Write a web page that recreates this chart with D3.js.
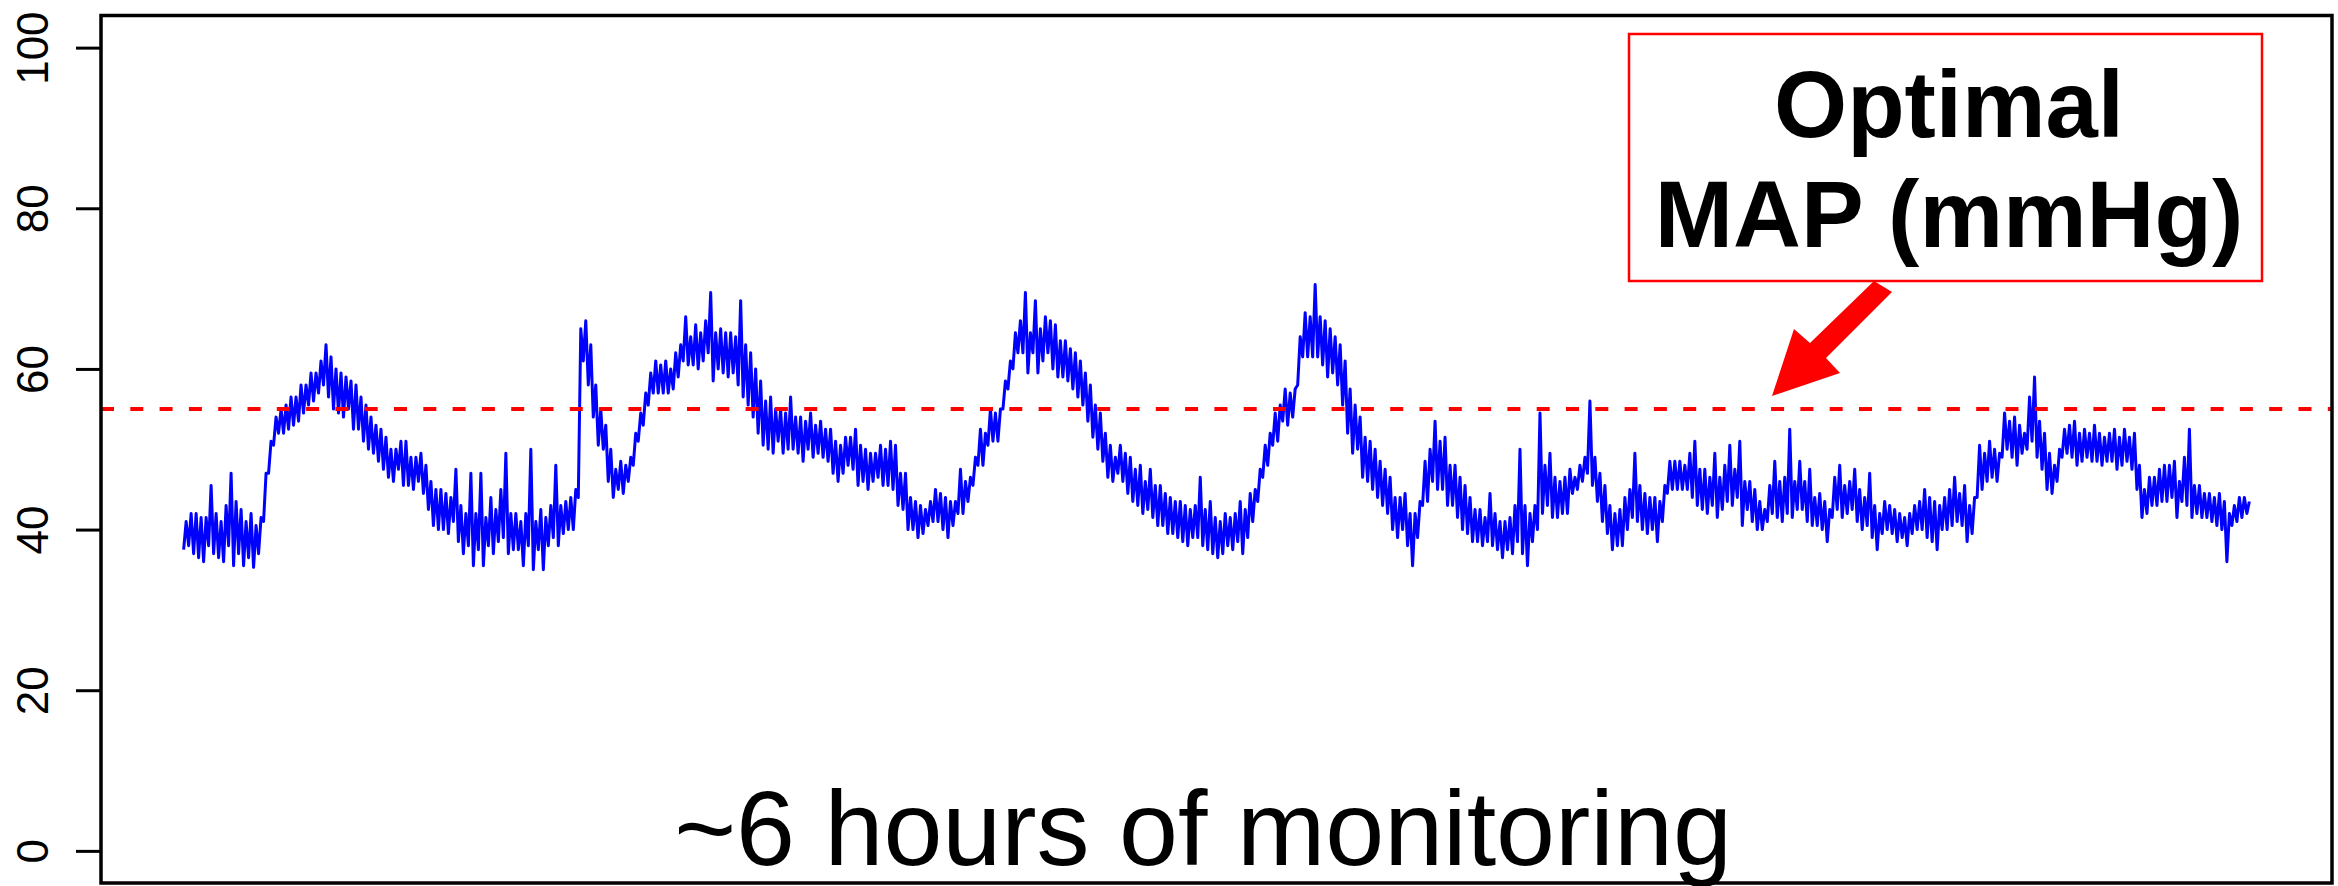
<!DOCTYPE html>
<html lang="en">
<head>
  <meta charset="UTF-8">
  <style>
    html, body { margin: 0; padding: 0; background: #fff; }
    svg { display: block; font-family: "Liberation Sans", Arial, sans-serif; }
  </style>
  <script src="https://d3js.org/d3.v7.min.js"></script>
</head>
<body>
  <svg id="chart" width="2338" height="886"></svg>

  <script>
    // MAP readings (mmHg), one list per hour,
    // each sample stored as its low then high swing
    const hour1 = [37.5, 41, 38, 42, 37, 42, 36.5, 41.5, 36, 41.5, 38, 45.5, 37, 42, 36.5, 41, 36, 43, 38, 47,
      35.5, 43.5, 37, 42.5, 35.5, 41, 36.5, 42, 35.3, 40.5, 37, 41.5, 41, 47, 47, 51, 50.5, 54, 52, 55,
      52, 55.5, 52.5, 56.5, 53, 56.5, 53.5, 58, 54.5, 58, 55.5, 59.5, 56, 59.5, 57, 61, 58, 63, 56.5, 61.5,
      55, 60, 54.5, 59.5, 54, 59, 55, 58.5, 52.5, 58, 52.5, 56.5, 51, 55.5, 50, 54, 49.5, 53, 48.5, 52.5,
      47.5, 51.5, 46.5, 50, 46, 50, 47.5, 51, 45.5, 51, 45.5, 49, 45, 49, 46, 49.5, 44.5, 48, 42.5, 46,
      40.5, 45, 40, 45, 40, 44.5, 39.5, 44, 41, 47.5, 38.5, 43, 37, 42, 38, 47, 35.5, 42, 37.5, 47,
      35.5, 41.5, 38, 44, 37, 42.5, 38.5, 45, 39, 49.5, 37, 42, 37.5, 42, 37.5, 41];
    const hour2 = [35.5, 42, 38, 50, 35, 41, 37.5, 42.5, 35, 41.5, 38, 43, 39, 48, 38, 43, 39.5, 43.5, 40, 44,
      40, 45, 44, 65, 61, 66, 58, 63, 54, 58, 50.5, 55, 50, 53, 46, 50, 44, 47.5, 45, 48.5,
      44.5, 48, 46, 49, 48, 52, 51, 54.5, 53, 57, 55.5, 59.5, 57, 61, 57, 60.5, 57, 61, 57, 60,
      57.5, 62, 59, 63, 61, 66.5, 60.5, 64, 60.5, 65.5, 60, 64.5, 61, 66, 62, 69.5, 58.5, 64.5, 60, 65,
      59.5, 64.5, 59, 64.5, 59.5, 64, 58, 68.5, 56.5, 63, 55.5, 62, 54, 60, 52, 58.5, 50.5, 56, 50, 56.5,
      49.5, 55, 51, 55, 49.5, 54.5, 50, 56.5, 50, 54, 49.5, 54, 48.5, 53.5, 50, 54.5, 49, 53, 49.5, 53.5,
      49, 52.5, 48.5, 52.5, 47, 51, 46, 50.5, 47, 51.5, 48, 51.5, 47.5, 52.5, 45.5, 50.5, 46, 50, 45, 49.5];
    const hour3 = [46, 49.5, 46.5, 50.5, 45.5, 50, 45.5, 51, 45, 50.5, 43, 47, 42.5, 47, 40, 44, 40, 43.5, 39, 43,
      39.5, 42.5, 40.5, 43.5, 41, 45, 41, 44.5, 40, 44, 39, 43.5, 40.5, 43.5, 42, 47.5, 42, 46, 43.5, 46.5,
      45.5, 49, 48, 52.5, 48, 52, 50.5, 55, 51, 54.5, 51, 55, 55, 58.5, 57.5, 61, 60, 64.5, 62, 66,
      62, 69.5, 59.5, 64.5, 62, 68.5, 59.5, 65, 61, 66.5, 62, 66, 60, 65.5, 59, 63.5, 59, 63.5, 58.5, 62.5,
      57.5, 62, 56.5, 61, 55.5, 59.5, 53.5, 58, 51.5, 55.5, 50, 54.5, 48.5, 52, 46.5, 50.5, 46, 49, 47, 50.5,
      46, 49.5, 44.5, 49, 43.5, 47.5, 43, 48, 42, 46, 42.5, 47.5, 41.5, 45.5, 40.5, 45.5, 40.5, 44.5, 39.5, 44,
      39.5, 43.5, 39, 43.5, 38.5, 43, 38, 42.5, 39, 43, 39, 46.5, 38, 42.5, 37.5, 43.5, 37, 41.5, 36.5, 41];
    const hour4 = [37, 42, 38, 41.5, 37.5, 42, 38.5, 43.5, 37, 42.5, 39, 44.5, 41, 45, 43.5, 47.5, 46.5, 50.5, 48, 52,
      50.5, 54.5, 51, 55.5, 53.5, 57.5, 53, 57, 54, 57.5, 58, 64, 61.5, 67, 61.5, 66.5, 61.5, 70.5, 61.5, 66.5,
      60.5, 66, 59, 65, 59.5, 64, 58, 63, 55.5, 61, 52, 57.5, 49.5, 55.5, 50, 54, 46.5, 51.5, 46, 51,
      45, 50, 44, 48.5, 43, 47.5, 42, 46.5, 40, 44, 39, 44, 40, 44.5, 38, 42, 35.5, 42, 39, 43.5,
      43, 48.5, 43.5, 50, 46, 53.5, 45, 51, 45, 51.5, 43, 48, 43, 48, 41.5, 46.5, 40, 45.5, 39.5, 44,
      38.5, 42.5, 38.5, 42.5, 38, 41.5, 38.5, 44.5, 38, 42, 37.5, 41, 36.5, 41, 37.5, 41.5, 37, 43, 38.5, 50,
      37, 43, 35.5, 42, 38.5, 43, 40, 54.5, 42, 48, 43, 49.5, 41.5, 46.5, 41.5, 46, 42, 46.5, 42, 47.5];
    const hour5 = [44.5, 46.5, 45, 48, 46, 49, 47, 56, 45.5, 49, 43.5, 47, 41, 45.5, 39.5, 43, 37.5, 42, 38, 42.5,
      38, 44, 40, 45, 41.5, 49.5, 41, 45.5, 40, 44.5, 39.5, 44, 40, 44, 38.5, 43.5, 41, 45.5, 44.5, 48.5,
      45, 48.5, 45, 48.5, 45, 48, 45, 49.5, 44, 51, 43, 47.5, 42.5, 47.5, 42, 46.5, 43, 49.5, 41.5, 46.5,
      42.5, 48, 43.5, 50.5, 43, 47.5, 44, 51, 40.5, 46, 42.5, 46, 41, 45, 40, 43.5, 40, 42.5, 41, 45.5,
      42, 48.5, 41.5, 46, 41, 46.5, 42, 52.5, 41.5, 46, 42.5, 48.5, 42.5, 46, 41, 47.5, 40.5, 44, 40.5, 44.5,
      40, 43.5, 38.5, 42.5, 41.5, 46.5, 42.5, 48, 41.5, 45.5, 42, 46, 42.5, 47.5, 41, 45, 40, 44, 40.5, 47,
      39, 43, 37.5, 42, 39.5, 43.5, 40, 43, 39.5, 42.5, 38.5, 42, 39, 41.5, 38, 42, 39.5, 43, 40, 43.5];
    const hour6 = [40, 45, 39, 44, 38.5, 43.5, 37.5, 43, 40, 44, 40, 45, 40.5, 46.5, 41, 44.5, 40.5, 45.5, 38.5, 43,
      39.5, 44, 44, 50.5, 45, 49.5, 46, 51, 46.5, 50, 46, 49.5, 49, 54.5, 50, 53.5, 49, 54, 48, 53,
      49.5, 52, 50, 56.5, 51, 59, 49, 53.5, 47.5, 52, 45, 49.5, 44.5, 48, 46, 50, 49, 52.5, 49.5, 53,
      49, 53.5, 48, 52, 48.5, 52.5, 49, 52, 48.5, 53, 48.5, 52, 48, 51.5, 48.5, 52, 48.5, 52.5, 47.5, 51.5,
      48, 52.5, 48.5, 51.5, 47.5, 52, 45, 48, 41.5, 45, 42, 46.5, 43, 46.5, 43, 47.5, 43.5, 48, 43.5, 48,
      44, 48.5, 41.5, 46, 43.5, 49, 43, 52.5, 41.5, 45.5, 42, 45.5, 41.5, 44.5, 41.5, 44.5, 41, 44, 40.5, 44.5,
      40, 43.5, 36, 42, 40.5, 43, 41, 44, 41.5, 44, 42, 43.5];

    const yTicks = [0, 20, 40, 60, 80, 100];
    const optimalMap = 55;
    const xLabel = "~6 hours of monitoring";
    const noteLines = ["Optimal", "MAP (mmHg)"];

    const map = [].concat(hour1, hour2, hour3, hour4, hour5, hour6);

    const svg = d3.select("#chart");
    const plot = { left: 101, right: 2332, top: 15.5, bottom: 883 };

    // R-style 4% padding on both axes
    const n = map.length - 1;
    const xScale = d3.scaleLinear().domain([-0.04 * n, 1.04 * n]).range([plot.left, plot.right]);
    const yScale = d3.scaleLinear().domain([-4, 104]).range([plot.bottom, plot.top]);

    // y axis with rotated labels
    const yAxis = svg.append("g")
      .attr("transform", `translate(${plot.left},0)`)
      .call(d3.axisLeft(yScale).tickValues(yTicks).tickSize(25).tickSizeOuter(0));
    yAxis.select(".domain").remove();
    yAxis.selectAll(".tick line").attr("stroke", "#000").attr("stroke-width", 3);
    yAxis.selectAll(".tick text")
      .attr("x", null)
      .attr("dy", null)
      .attr("fill", "#000")
      .attr("font-size", 44)
      .attr("font-family", "Liberation Sans, Arial, sans-serif")
      .attr("text-anchor", "middle")
      .attr("transform", "translate(-53,0) rotate(-90)");

    // the trace
    const line = d3.line()
      .x((d, i) => xScale(i))
      .y(d => yScale(d));

    svg.append("path")
      .datum(map)
      .attr("fill", "none")
      .attr("stroke", "#0000ff")
      .attr("stroke-width", 3)
      .attr("stroke-linejoin", "round")
      .attr("d", line);

    // optimal MAP threshold
    svg.append("line")
      .attr("x1", plot.left)
      .attr("x2", plot.right)
      .attr("y1", yScale(optimalMap))
      .attr("y2", yScale(optimalMap))
      .attr("stroke", "#ff0000")
      .attr("stroke-width", 4)
      .attr("stroke-dasharray", "13 16.3");

    // plot frame
    svg.append("rect")
      .attr("x", plot.left)
      .attr("y", plot.top)
      .attr("width", plot.right - plot.left)
      .attr("height", plot.bottom - plot.top)
      .attr("fill", "none")
      .attr("stroke", "#000")
      .attr("stroke-width", 3.5);

    // annotation box
    const box = { x: 1629, y: 34, w: 633, h: 247 };
    svg.append("rect")
      .attr("x", box.x)
      .attr("y", box.y)
      .attr("width", box.w)
      .attr("height", box.h)
      .attr("fill", "#fff")
      .attr("stroke", "#ff0000")
      .attr("stroke-width", 2.5);

    svg.selectAll(".note")
      .data(noteLines)
      .enter()
      .append("text")
      .attr("class", "note")
      .attr("x", 1949)
      .attr("y", (d, i) => 137 + i * 110)
      .attr("text-anchor", "middle")
      .attr("font-size", 94)
      .attr("font-weight", "bold")
      .attr("fill", "#000")
      .text(d => d);

    // arrow from box down to the dashed line
    const arrow = [[1874, 281], [1892, 292], [1826, 358], [1840, 373], [1772, 396], [1794, 329], [1810, 343]];
    svg.append("polygon")
      .attr("points", arrow.map(p => p.join(",")).join(" "))
      .attr("fill", "#ff0000");

    // x label
    svg.append("text")
      .attr("x", 1203)
      .attr("y", 865)
      .attr("text-anchor", "middle")
      .attr("font-size", 106)
      .attr("fill", "#000")
      .text(xLabel);
  </script>
</body>
</html>
